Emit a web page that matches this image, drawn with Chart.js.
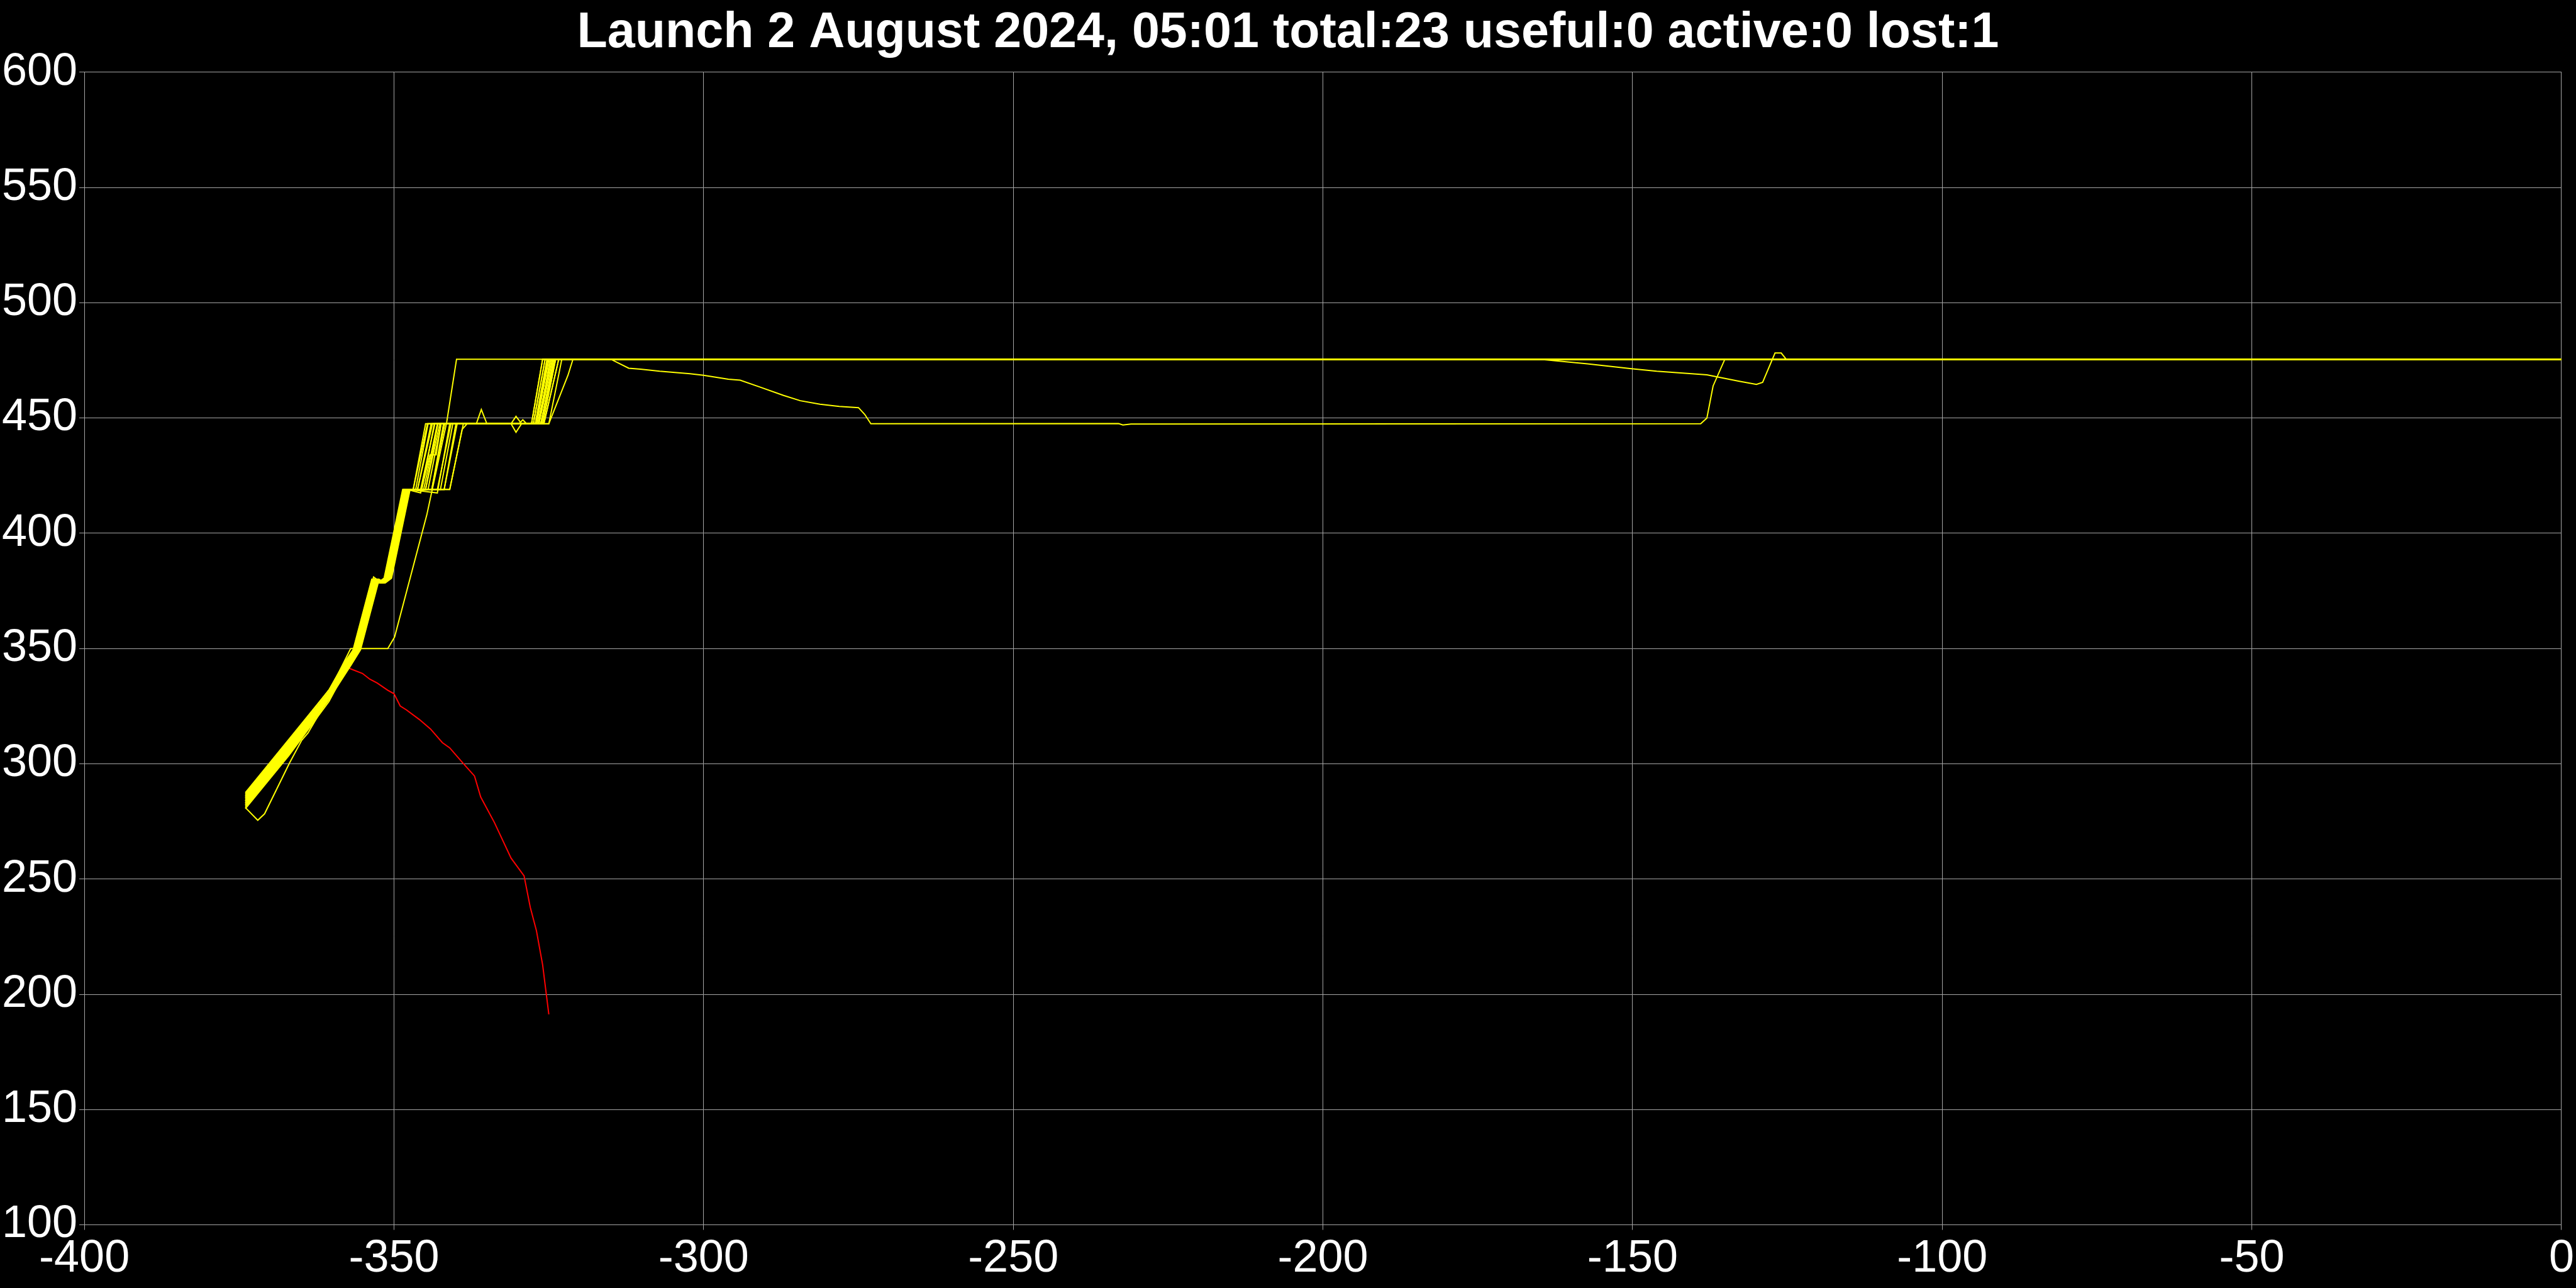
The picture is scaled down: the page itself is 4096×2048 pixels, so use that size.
<!DOCTYPE html>
<html>
<head>
<meta charset="utf-8">
<script src="https://cdn.jsdelivr.net/npm/chart.js@4.4.1/dist/chart.umd.min.js"></script>
<style>
  html, body { margin:0; padding:0; background:#000; }
  #wrap { width:4096px; height:2048px; position:relative; }
</style>
</head>
<body>
<div id="wrap"><canvas id="chart"></canvas></div>
<script>
// ── Data: tracks as [x, y] pairs ─────────────────────────────
const titleText = 'Launch 2 August 2024, 05:01 total:23 useful:0 active:0 lost:1';

const xTicks = [-400, -350, -300, -250, -200, -150, -100, -50, 0];
const yTicks = [100, 150, 200, 250, 300, 350, 400, 450, 500, 550, 600];

const track01 = [[-374,287],[-367,310],[-360.5,332],[-358.2,343],[-356.6,349.5],[-353.6,380],[-352.6,378.5],[-351.6,380.5],[-348.6,419],[-346.9,419],[-344.9,447.5],[-327.8,447.5],[-326.0,475.5],[0,475.5]];
const track02 = [[-374,286],[-367,309],[-360.5,331],[-357.9,344],[-356.4,349.5],[-353.4,380],[-352.4,378.5],[-351.4,380.5],[-348.4,419],[-346.9,419],[-344.6,447.5],[-327.5,447.5],[-325.6,475.5],[0,475.5]];
const track03 = [[-374,285],[-367,308],[-360.5,331],[-357.8,343],[-356.3,349.5],[-353.3,381],[-352.3,379],[-351.3,381],[-348.3,419],[-346.2,419],[-344.0,447.5],[-327.5,447.5],[-325.6,475.5],[0,475.5]];
const track04 = [[-374,284],[-367,307],[-360.5,330],[-357.7,343],[-356.2,349.5],[-353.2,380],[-352.2,378.5],[-351.2,380.5],[-348.2,419],[-346.2,419],[-343.8,447.5],[-327.0,447.5],[-325.0,475.5],[0,475.5]];
const track05 = [[-374,283],[-367,306],[-360.5,330],[-357.5,344],[-356.0,349.5],[-353.0,380],[-352.0,378.5],[-351.0,380.5],[-348.0,419],[-345.7,419],[-343.4,447.5],[-327.0,447.5],[-325.0,475.5],[0,475.5]];
const track06 = [[-374,282],[-367,305],[-360.5,329],[-357.4,343],[-355.9,349.5],[-352.9,380],[-351.9,378.5],[-350.9,380.5],[-347.9,419],[-345.7,417.5],[-344.2,434],[-343.2,434],[-342.4,447.5],[-326.6,447.5],[-324.4,475.5],[0,475.5]];
const track07 = [[-374,281],[-367,304],[-360.5,328],[-357.3,343],[-355.8,349.5],[-352.8,380],[-351.8,378.5],[-350.8,380.5],[-347.8,419],[-344.9,419],[-342.9,447.5],[-326.6,447.5],[-324.4,475.5],[0,475.5]];
const track08 = [[-374,286.5],[-367,309.5],[-360.5,332],[-358.0,344],[-356.5,349.5],[-353.5,380],[-352.5,378.5],[-351.5,380.5],[-348.5,419],[-344.9,419],[-342.6,447.5],[-326.0,447.5],[-323.9,475.5],[0,475.5]];
const track09 = [[-374,285.5],[-367,308.5],[-360.5,331],[-357.6,344],[-356.1,349.5],[-353.1,380],[-352.1,378.5],[-351.1,380.5],[-348.1,419],[-343.9,419],[-342.0,447.5],[-336.7,447.5],[-335.9,453.7],[-335.0,447.5],[-326.0,447.5],[-323.9,475.5],[0,475.5]];
const track10 = [[-374,284.5],[-367,307.5],[-360.5,330],[-357.2,343],[-355.7,349.5],[-352.7,380],[-351.7,378.5],[-350.7,380.5],[-347.7,419],[-343.9,419],[-341.8,447.5],[-331.1,447.5],[-330.3,450.7],[-329.4,447.5],[-325.8,447.5],[-323.4,475.5],[0,475.5]];
const track11 = [[-374,283.5],[-367,306.5],[-360.5,329],[-357.1,343],[-355.6,349.5],[-352.6,380],[-351.6,378.5],[-350.6,380.5],[-347.6,419],[-343.0,417.5],[-341.0,447.5],[-331.1,447.5],[-330.3,443.8],[-329.4,447.5],[-325.8,447.5],[-323.4,475.5],[0,475.5]];
const track12 = [[-374,282.5],[-367,305.5],[-360.5,329],[-357.0,343],[-355.5,349.5],[-352.5,380],[-351.5,378.5],[-350.5,380.5],[-347.5,419],[-343.0,419],[-340.8,447.5],[-329.8,447.5],[-329.2,449.2],[-328.6,447.5],[-325.0,447.5],[-322.9,475.5],[0,475.5]];
const track13 = [[-374,281.5],[-367,304.5],[-360.5,328],[-356.9,343],[-355.4,349.5],[-352.4,380],[-351.4,378.5],[-350.4,380.5],[-347.4,419],[-341.9,419],[-340.0,447.5],[-327.8,447.5],[-326.0,475.5],[0,475.5]];
const track14 = [[-374,280.5],[-367,303.5],[-360.5,327],[-357.3,343],[-355.8,349.5],[-352.8,380],[-351.8,378.5],[-350.8,380.5],[-347.8,419],[-341.9,419],[-339.8,447.5],[-327.0,447.5],[-325.2,475.5],[0,475.5]];
const track15 = [[-374,287.5],[-367,310.5],[-360.5,332],[-357.7,344],[-356.2,349.5],[-353.2,380],[-352.2,378.5],[-351.2,380.5],[-348.2,419],[-341.0,419],[-339.0,445],[-338.2,447.5],[-326.6,447.5],[-324.8,475.5],[0,475.5]];
const track16 = [[-374,283],[-367,306],[-360.5,330],[-357.4,343],[-355.9,349.5],[-352.9,380],[-351.9,378.5],[-350.9,380.5],[-347.9,419],[-341.0,419],[-338.8,447.5],[-325.0,447.5],[-321.9,468.6],[-321.1,475.5],[0,475.5]];
const track17 = [[-374,284],[-367,307],[-360.5,330],[-357.6,343],[-356.1,349.5],[-353.1,380],[-352.1,378.5],[-351.1,380.5],[-348.1,419],[-346.5,419],[-344.5,447.5],[-327.2,447.5],[-325.3,475.5],[0,475.5]];
const track18 = [[-374,285],[-367,308],[-360.5,331],[-357.5,344],[-356.0,349.5],[-353.0,380],[-352.0,378.5],[-351.0,380.5],[-348.0,419],[-344.5,419],[-342.4,447.5],[-326.8,447.5],[-324.6,475.5],[-315,475.5],[-312.1,471.6],[-310.2,471.2],[-307.1,470.3],[-302.2,469.2],[-300,468.5],[-296,466.8],[-294.1,466.4],[-291,463.5],[-287.1,459.8],[-284.4,457.5],[-281.2,456],[-278.1,455],[-275,454.5],[-274,451.6],[-273,447.5],[-233,447.6],[-232.3,447],[-231,447.4],[-139,447.5],[-138,450],[-137,463.9],[-135.1,475.5],[0,475.5]];
const track19 = [[-374,282],[-367,305],[-360.5,329],[-357.2,343],[-355.7,349.5],[-352.7,380],[-351.7,378.5],[-350.7,380.5],[-347.7,419],[-342.5,419],[-340.5,447.5],[-326.3,447.5],[-324.0,475.5],[-165,475.5],[-157.3,473.5],[-150.2,471.4],[-146.1,470.3],[-138,468.7],[-132.9,466],[-130,464.6],[-129,465.5],[-127,478.2],[-126,478.2],[-125.2,475.5],[0,475.5]];
const track20 = [[-374,286],[-367,309],[-360.5,331],[-357.8,344],[-356.3,349.5],[-353.3,380],[-352.3,378.5],[-351.3,380.5],[-348.3,419],[-345.2,419],[-343.0,447.5],[-326.2,447.5],[-324.2,475.5],[0,475.5]];
const track21 = [[-374,281],[-372,275.5],[-370.9,278.3],[-366.9,300.2],[-364.9,310.2],[-363.9,313.3],[-362.2,321.1],[-360.8,328],[-360.2,331.2],[-357.7,343],[-356.2,349.5],[-353.2,380],[-352.2,378.5],[-351.2,380.5],[-348.2,419],[-345.5,419],[-343.5,447.5],[-326.3,447.5],[-324.2,475.5],[0,475.5]];
const track22 = [[-374,284],[-367,307],[-361,329],[-359.7,335.4],[-357,350],[-351,350],[-349.9,355],[-344.7,408],[-341.5,448],[-339.9,475.5],[0,475.5]];
const lostTrack = [[-374,283],[-367,306],[-361,328],[-359.5,336],[-357.6,341.8],[-355.1,339.2],[-353.9,336.7],[-352.7,335],[-351,331.9],[-350,330.4],[-349,325.1],[-348,323.4],[-345.9,319.2],[-344.1,315.1],[-342.2,309.2],[-341,306.9],[-338.8,300.1],[-337,294.7],[-336,285.6],[-333.8,274.6],[-331.1,259.1],[-329,251.4],[-328,237.8],[-327,227.6],[-326,212.8],[-325,191.3]];

const okTracks = [track01, track02, track03, track04, track05, track06, track07, track08, track09, track10, track11,
                  track12, track13, track14, track15, track16, track17, track18, track19, track20, track21, track22];

// ── Build datasets ───────────────────────────────────────────
const toPts = t => t.map(([x, y]) => ({ x, y }));

const datasets = okTracks.map(t => ({
  data: toPts(t),
  borderColor: '#ffff00',
  borderWidth: 2,
}));
// red one last so it sits beneath the yellow bundle
datasets.push({ data: toPts(lostTrack), borderColor: '#ff0000', borderWidth: 2 });

const tickFont = { family: "'Liberation Sans', Arial, sans-serif", size: 72 };
const gridColor = '#a6a6a6';

new Chart(document.getElementById('chart'), {
  type: 'scatter',
  data: { datasets },
  options: {
    responsive: true,
    maintainAspectRatio: false,
    animation: false,
    devicePixelRatio: 1,
    showLine: true,
    elements: {
      point: { radius: 0, hoverRadius: 0 },
      line:  { tension: 0, fill: false },
    },
    layout: { padding: 0 },
    plugins: {
      legend:  { display: false },
      tooltip: { enabled: false },
      title: {
        display: true,
        text: titleText,
        color: '#ffffff',
        padding: { top: 6, bottom: 14 },
        font: { family: "'Liberation Sans', Arial, sans-serif", size: 79, weight: 'bold' },
      },
    },
    scales: {
      x: {
        type: 'linear',
        min: xTicks[0], max: xTicks[xTicks.length - 1],
        afterBuildTicks: ax => { ax.ticks = xTicks.map(v => ({ value: v })); },
        grid:   { color: gridColor, lineWidth: 1, tickLength: 8 },
        border: { color: gridColor },
        ticks:  { color: '#ffffff', font: tickFont, padding: 3, maxRotation: 0 },
      },
      y: {
        type: 'linear',
        min: yTicks[0], max: yTicks[yTicks.length - 1],
        afterBuildTicks: ax => { ax.ticks = yTicks.map(v => ({ value: v })); },
        grid:   { color: gridColor, lineWidth: 1, tickLength: 8 },
        border: { color: gridColor },
        ticks:  { color: '#ffffff', font: tickFont, padding: 3 },
      },
    },
  },
});
</script>
</body>
</html>
